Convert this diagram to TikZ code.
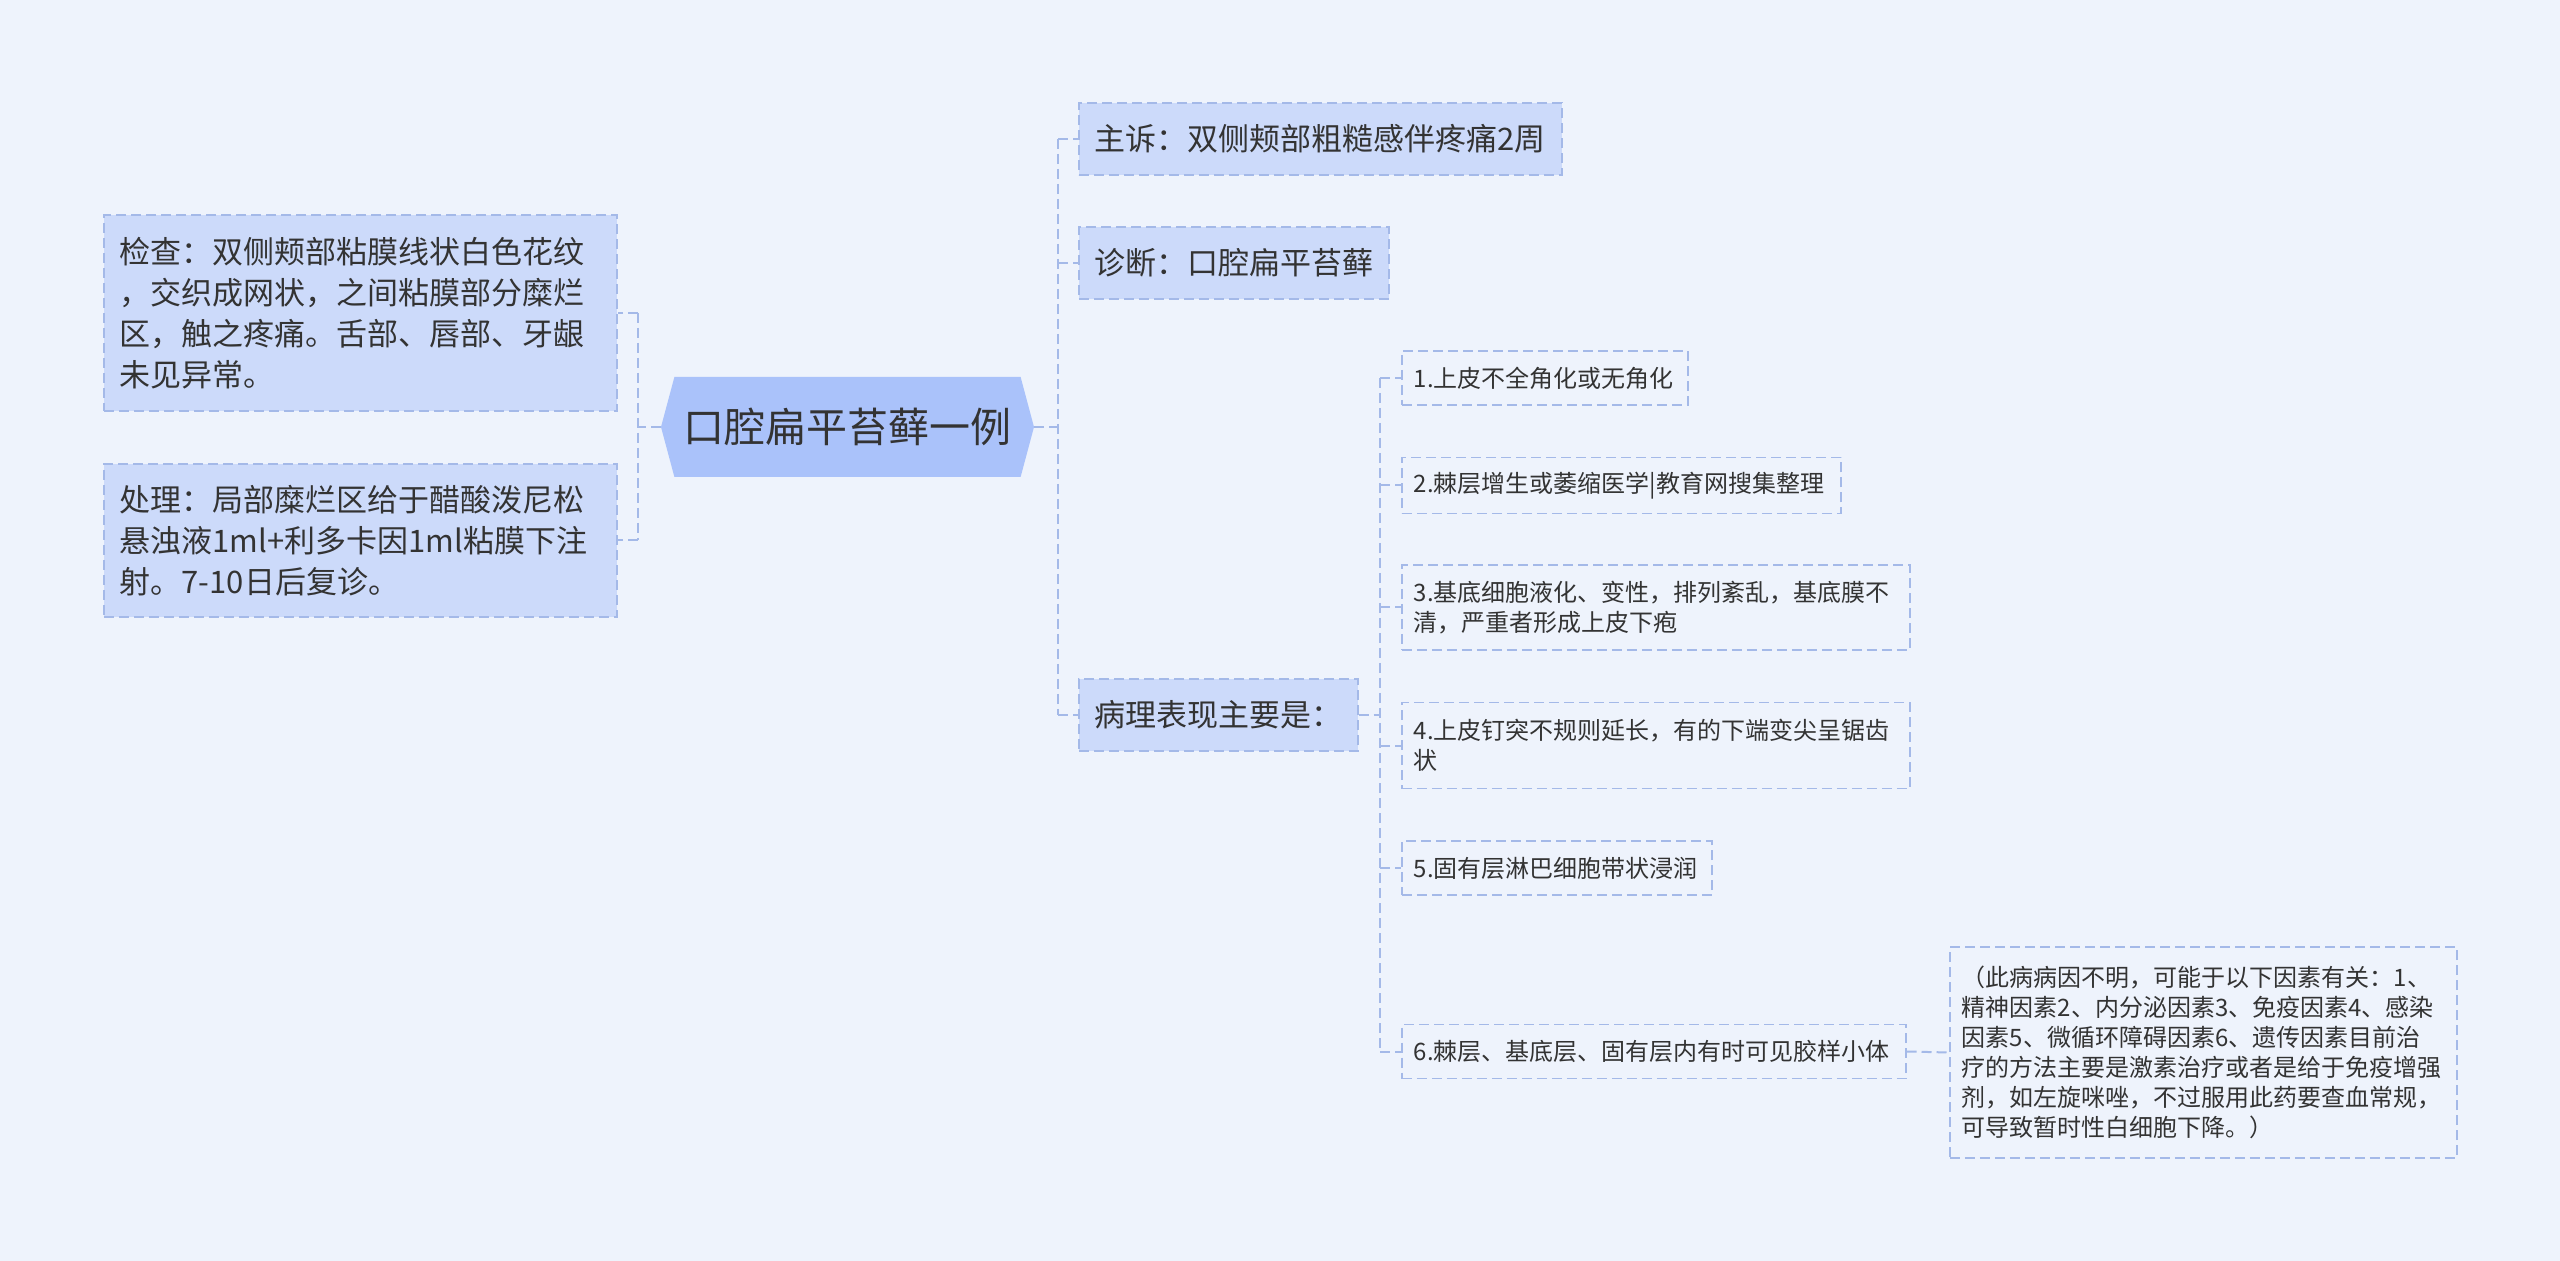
\documentclass[tikz,border=0pt]{standalone}
\usepackage{fontspec}
\usepackage{xcolor}
\usepackage{tikz}
\usetikzlibrary{shapes.symbols}
\newfontfamily\cjk{Noto Sans CJK SC}
\definecolor{bgc}{HTML}{EEF3FC}
\definecolor{topc}{HTML}{CCDAFA}
\definecolor{rootc}{HTML}{AAC2FA}
\definecolor{dashc}{HTML}{A4B9E8}
\definecolor{txt}{HTML}{333333}

\begin{document}
\begin{tikzpicture}[
  x=0.5pt,y=-0.5pt,
  root/.style={signal,signal to=west and east,signal pointer angle=150,
    fill=rootc,minimum width=186.5pt,minimum height=50pt,inner sep=0pt,
    text=txt,font=\cjk\fontsize{20.5}{24}\selectfont},
  topic/.style={draw=dashc,fill=topc,line width=0.75pt,dash pattern=on 5pt off 2.5pt,
    anchor=west,inner xsep=8pt,inner ysep=0pt,align=left,text=txt,
    font=\cjk\fontsize{15.5}{20.5}\selectfont},
  leaf/.style={draw=dashc,fill=bgc,line width=0.75pt,dash pattern=on 5pt off 2.5pt,
    anchor=west,inner xsep=6pt,inner ysep=0pt,align=left,text=txt,
    font=\cjk\fontsize{12}{15}\selectfont},
  link/.style={dashc,line width=1pt,dash pattern=on 5pt off 2.5pt}
]
  \useasboundingbox (0,0) rectangle (2560,1261);
  \fill[bgc] (0,0) rectangle (2560,1261);

  \node[root] (root) at (847.5,427) {口腔扁平苔藓一例};

  % left side
  \node[topic,text width=240.5pt,minimum height=98pt] (jc) at (103,313)
    {检查：双侧颊部粘膜线状白色花纹\\，交织成网状，之间粘膜部分糜烂\\区，触之疼痛。舌部、唇部、牙龈\\未见异常。};
  \node[topic,text width=240.5pt,minimum height=76.5pt] (cl) at (103,540.5)
    {处理：局部糜烂区给于醋酸泼尼松\\悬浊液1ml+利多卡因1ml粘膜下注\\射。7-10日后复诊。};

  % right side
  \node[topic,text width=225.5pt,minimum height=36pt] (zs) at (1078,139) {主诉：双侧颊部粗糙感伴疼痛2周};
  \node[topic,text width=139pt,minimum height=36pt] (zd) at (1078,263) {诊断：口腔扁平苔藓};
  \node[topic,text width=123.5pt,minimum height=36pt] (bl) at (1078,715) {病理表现主要是：};

  % pathology items
  \node[leaf,text width=131pt,minimum height=27pt] (b1) at (1401,378) {1.上皮不全角化或无角化};
  \node[leaf,text width=207.5pt,minimum height=28pt] (b2) at (1401,485.5) {2.棘层增生或萎缩医学|教育网搜集整理};
  \node[leaf,text width=242pt,minimum height=42.5pt] (b3) at (1401,607.5)
    {3.基底细胞液化、变性，排列紊乱，基底膜不\\清，严重者形成上皮下疱};
  \node[leaf,text width=242pt,minimum height=43pt] (b4) at (1401,745.5)
    {4.上皮钉突不规则延长，有的下端变尖呈锯齿\\状};
  \node[leaf,text width=143pt,minimum height=27pt] (b5) at (1401,868) {5.固有层淋巴细胞带状浸润};
  \node[leaf,text width=240pt,minimum height=27pt] (b6) at (1401,1051.5) {6.棘层、基底层、固有层内有时可见胶样小体};
  \node[leaf,text width=241.5pt,minimum height=105.5pt] (note) at (1949,1052.5)
    {（此病病因不明，可能于以下因素有关：1、\\精神因素2、内分泌因素3、免疫因素4、感染\\因素5、微循环障碍因素6、遗传因素目前治\\疗的方法主要是激素治疗或者是给于免疫增强\\剂，如左旋咪唑，不过服用此药要查血常规，\\可导致暂时性白细胞下降。）};

  % spines
  \coordinate (ls) at (638,427);
  \coordinate (rs) at (1058,427);
  \coordinate (bs) at (1380,715);

  \draw[link] (root.west) -- (ls);
  \draw[link] (ls |- jc.east) -- (ls |- cl.east);
  \draw[link] (ls |- jc.east) -- (jc.east);
  \draw[link] (ls |- cl.east) -- (cl.east);

  \draw[link] (root.east) -- (rs);
  \draw[link] (rs |- zs.west) -- (rs |- bl.west);
  \foreach \n in {zs,zd,bl}
    \draw[link] (rs |- \n.west) -- (\n.west);

  \draw[link] (bl.east) -- (bs);
  \draw[link] (bs |- b1.west) -- (bs |- b6.west);
  \foreach \n in {b1,b2,b3,b4,b5,b6}
    \draw[link] (bs |- \n.west) -- (\n.west);

  \draw[link] (b6.east) -- (note.west);
\end{tikzpicture}
\end{document}
